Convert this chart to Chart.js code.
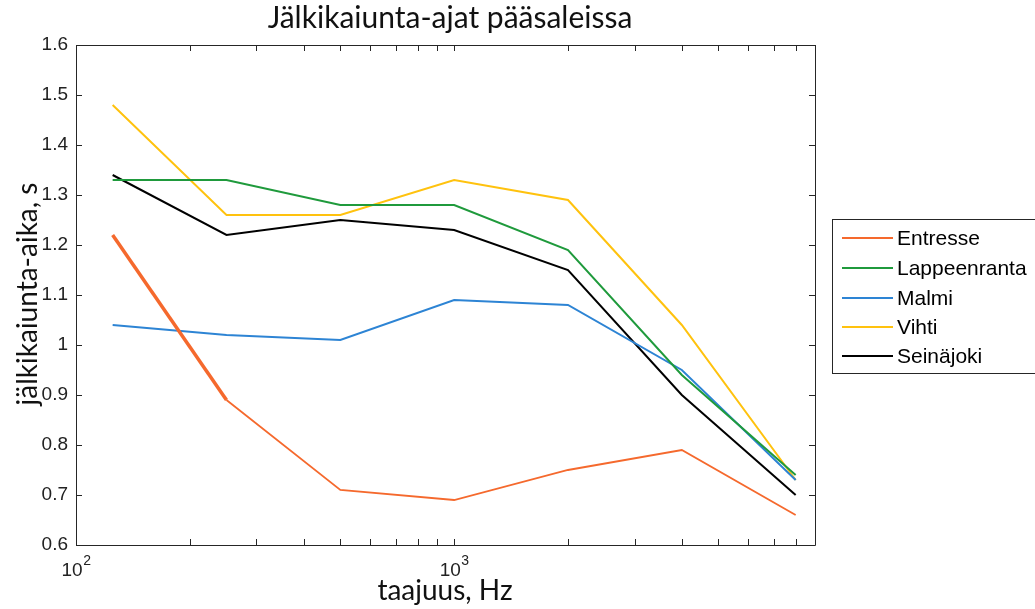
<!DOCTYPE html>
<html><head><meta charset="utf-8">
<script src="https://cdn.jsdelivr.net/npm/chart.js@4"></script>
<style>html,body{margin:0;padding:0;background:#fff}canvas{display:block}</style>
</head><body>
<canvas id="c" width="1035" height="609"></canvas>
<script>
const chartTitle = 'Jälkikaiunta-ajat pääsaleissa';
const xTitle = 'taajuus, Hz';
const yTitle = 'jälkikaiunta-aika, s';
const frequencies = [125, 250, 500, 1000, 2000, 4000, 8000];
const entresse = [1.22, 0.89, 0.71, 0.69, 0.75, 0.79, 0.66];
const lappeenranta = [1.33, 1.33, 1.28, 1.28, 1.19, 0.94, 0.74];
const malmi = [1.04, 1.02, 1.01, 1.09, 1.08, 0.95, 0.73];
const vihti = [1.48, 1.26, 1.26, 1.33, 1.29, 1.04, 0.73];
const seinajoki = [1.34, 1.22, 1.25, 1.23, 1.15, 0.90, 0.70];
const seriesNames = ['Entresse', 'Lappeenranta', 'Malmi', 'Vihti', 'Seinäjoki'];
const seriesValues = [entresse, lappeenranta, malmi, vihti, seinajoki];
const seriesColors = ['#f5692d', '#1f9a3c', '#2d84d4', '#ffc20e', '#000000'];
const yTicks = [0.6, 0.7, 0.8, 0.9, 1.0, 1.1, 1.2, 1.3, 1.4, 1.5, 1.6];
const xMajorTicks = [100, 1000];
const xMajorBase = ['10', '10'];
const xMajorExp = ['2', '3'];
const xMinorTicks = [200, 300, 400, 500, 600, 700, 800, 900, 2000, 3000, 4000, 5000, 6000, 7000, 8000, 9000];

const datasets = seriesNames.map((name, i) => ({
  label: name,
  data: frequencies.map((f, j) => ({x: f, y: seriesValues[i][j]})),
  borderColor: seriesColors[i],
  backgroundColor: seriesColors[i],
  borderWidth: 2,
  pointRadius: 0,
  tension: 0,
  segment: i === 0 ? { borderWidth: ctx => ctx.p0DataIndex === 0 ? 3.5 : 1.8 } : undefined
}));

const framePlugin = {
  id: 'frame',
  afterDraw(chart) {
    const ctx = chart.ctx, a = chart.chartArea;
    const xs = chart.scales.x, ys = chart.scales.y;
    ctx.save();
    ctx.strokeStyle = '#262626';
    ctx.lineWidth = 1;
    ctx.beginPath();
    ctx.rect(Math.round(a.left) + 0.5, Math.round(a.top) + 0.5, Math.round(a.right - a.left), Math.round(a.bottom - a.top));
    ctx.stroke();
    ctx.beginPath();
    const tl = 6;
    xMajorTicks.concat(xMinorTicks).forEach(v => {
      const px = Math.round(xs.getPixelForValue(v)) + 0.5;
      ctx.moveTo(px, a.bottom); ctx.lineTo(px, a.bottom - tl);
      ctx.moveTo(px, a.top); ctx.lineTo(px, a.top + tl);
    });
    yTicks.forEach(v => {
      const py = Math.round(ys.getPixelForValue(v)) + 0.5;
      ctx.moveTo(a.left, py); ctx.lineTo(a.left + tl, py);
      ctx.moveTo(a.right, py); ctx.lineTo(a.right - tl, py);
    });
    ctx.stroke();

    // x tick labels with superscript exponent
    ctx.fillStyle = '#222';
    ctx.textBaseline = 'alphabetic';
    ctx.textAlign = 'left';
    const baseFont = '19px "Liberation Sans", Arial, sans-serif';
    const expFont = '14px "Liberation Sans", Arial, sans-serif';
    xMajorTicks.forEach((v, k) => {
      ctx.font = baseFont;
      const wb = ctx.measureText(xMajorBase[k]).width;
      ctx.font = expFont;
      const we = ctx.measureText(xMajorExp[k]).width;
      const cx = xs.getPixelForValue(v);
      const x0 = cx - (wb + we) / 2;
      ctx.font = baseFont;
      ctx.fillText(xMajorBase[k], x0, 576);
      ctx.font = expFont;
      ctx.fillText(xMajorExp[k], x0 + wb + 0.5, 565);
    });

    // titles
    ctx.fillStyle = '#111';
    ctx.textAlign = 'center';
    ctx.textBaseline = 'alphabetic';
    ctx.font = '30px Lato, "Open Sans", sans-serif';
    ctx.fillText(chartTitle, 450, 28);
    ctx.font = '28px Lato, "Open Sans", sans-serif';
    ctx.fillText(xTitle, 445, 600);
    ctx.save();
    ctx.textBaseline = 'middle';
    ctx.translate(28, 294);
    ctx.rotate(-Math.PI / 2);
    ctx.fillText(yTitle, 0, 0);
    ctx.restore();

    // legend box
    const lx = 832, ly = 219, lh = 154;
    ctx.fillStyle = '#fff';
    ctx.fillRect(lx, ly, 1040 - lx, lh);
    ctx.strokeStyle = '#262626';
    ctx.lineWidth = 1;
    ctx.strokeRect(lx + 0.5, ly + 0.5, 1040 - lx, lh);
    const rowY = [238, 268, 298, 327, 356];
    ctx.textAlign = 'left';
    ctx.textBaseline = 'middle';
    ctx.font = '21px "Liberation Sans", Arial, sans-serif';
    chart.data.datasets.forEach((ds, i) => {
      ctx.strokeStyle = ds.borderColor;
      ctx.lineWidth = 2;
      ctx.beginPath();
      ctx.moveTo(842, rowY[i]); ctx.lineTo(893, rowY[i]);
      ctx.stroke();
      ctx.fillStyle = '#000';
      ctx.fillText(ds.label, 897, rowY[i] + 1);
    });
    ctx.restore();
  }
};

new Chart(document.getElementById('c'), {
  type: 'line',
  data: { datasets },
  options: {
    responsive: false,
    animation: false,
    layout: { padding: { top: 45, right: 220, left: 0, bottom: 0 } },
    plugins: { legend: { display: false }, title: { display: false }, tooltip: { enabled: false } },
    scales: {
      x: {
        type: 'logarithmic',
        min: 100, max: 9000,
        grid: { display: false, drawTicks: false },
        border: { display: false },
        afterBuildTicks: s => { s.ticks = xMajorTicks.map(v => ({ value: v })); },
        afterFit: s => { s.height = 64; },
        ticks: { display: false, autoSkip: false, maxRotation: 0 }
      },
      y: {
        type: 'linear',
        min: 0.6, max: 1.6,
        grid: { display: false, drawTicks: false },
        border: { display: false },
        afterBuildTicks: s => { s.ticks = yTicks.map(v => ({ value: v })); },
        afterFit: s => { s.width = 76; },
        ticks: {
          padding: 8,
          color: '#222',
          font: { family: '"Liberation Sans", Arial, sans-serif', size: 19 },
          callback: v => Math.abs(v - 1) < 1e-9 ? '1' : Number(v).toFixed(1)
        }
      }
    }
  },
  plugins: [framePlugin]
});
</script>
</body></html>
